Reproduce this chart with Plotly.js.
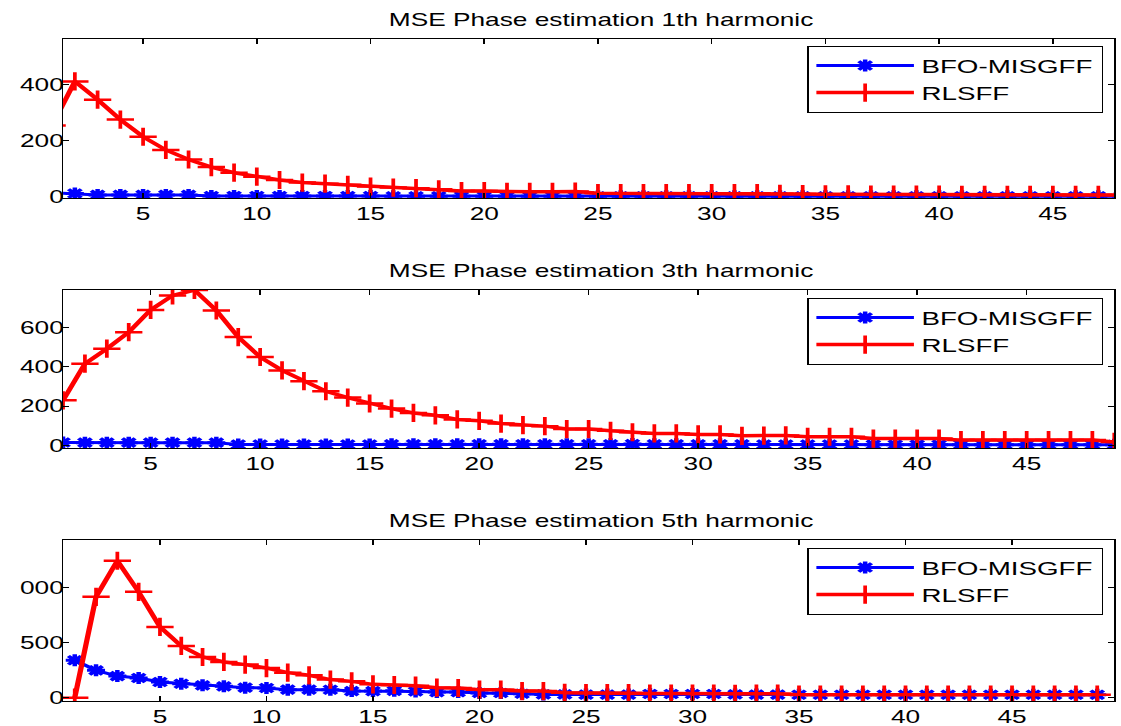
<!DOCTYPE html>
<html><head><meta charset="utf-8">
<script src="https://cdn.plot.ly/plotly-3.0.1.min.js"></script>
<style>
html,body{margin:0;padding:0;overflow:hidden;background:#fff;}
#chart{width:747px;height:726px;transform:scaleX(1.5007);transform-origin:0 0;}
</style>
</head><body><div id="chart"></div>
<script>
// sample index (x axis)
const samples = [1,2,3,4,5,6,7,8,9,10,11,12,13,14,15,16,17,18,19,20,21,22,23,24,25,26,27,28,29,30,31,32,33,34,35,36,37,38,39,40,41,42,43,44,45,46,47,48,49];
const xTicks = [5,10,15,20,25,30,35,40,45];
const seriesNames = ['BFO-MISGFF','RLSFF'];
const titles = ['MSE Phase estimation 1th harmonic','MSE Phase estimation 3th harmonic','MSE Phase estimation 5th harmonic'];

// 1th harmonic
const h1_bfo = [16,13,8,8,8,8,8,4,4,4,4,4,4,4,4,3,3,3,3,3,3,3,3,3,3,3,3,3,3,3,3,3,3,3,3,3,3,3,3,3,3,3,3,3,3,3,3,3];
const h1_rls = [255,412,347,276,215,168,134,107,87,73,61,52,48,44,38,34,32,28,22,22,19,19,19,20,14,14,14,14,14,14,14,14,12,11,10,10,9,9,9,9,8,8,8,8,8,8,8,8];
// 3th harmonic
const h3_bfo = [16,15,15,15,15,15,15,15,6,6,6,6,6,6,6,7,7,7,7,7,7,7,7,7,7,7,8,7,7,7,7,7,6,6,6,6,6,5,5,5,5,5,5,5,5,5,5,5,4];
const h3_rls = [230,416,492,576,689,762,790,686,551,450,382,327,276,244,214,188,166,154,133,126,112,104,99,84,84,75,68,62,62,57,57,50,51,52,45,45,45,36,36,36,36,28,28,28,28,28,28,28,19];
// 5th harmonic
const h5_bfo = [339,248,196,178,142,127,112,103,91,88,73,73,72,60,60,62,57,51,51,42,42,36,30,30,28,28,28,33,33,33,33,30,28,28,27,27,27,27,27,27,27,27,27,27,27,27,27,27,27];
const h5_rls = [0,915,1242,960,642,469,369,324,300,269,227,203,164,148,121,115,109,91,88,73,73,60,60,45,42,42,42,38,38,36,36,34,36,36,27,27,27,27,27,27,27,27,27,27,27,27,27,27,27];

const yTickVals = [[0,200,400],[0,200,400,600],[0,500,1000]];
const yTickText = [['0','200','400'],['0','200','400','600'],['0','500','000']];

const W = 747, H = 726;
const FONT = 'Liberation Sans, Arial, Helvetica, sans-serif';
const xDom = [42/W, 742.5/W];
const plotTops = [39, 290, 540];
const plotBots = [198, 448, 701];
const xRanges = [[1.48,47.7],[1,49],[0.45,49.8]];
const yRanges = [[-3,563],[-12,790],[-30,1430]];
const legendTops = [46, 298, 548];

const bfoData = [h1_bfo, h3_bfo, h5_bfo];
const rlsData = [h1_rls, h3_rls, h5_rls];

const traces = [];
const layout = {
  width: W, height: H,
  margin: {l:0, r:0, t:0, b:0},
  paper_bgcolor: '#fff', plot_bgcolor: '#fff',
  font: {family: FONT, color: '#000', size: 17},
  annotations: []
};

for (let i = 0; i < 3; i++) {
  const sfx = i === 0 ? '' : String(i + 1);
  const lg = 'legend' + sfx;
  traces.push({
    x: samples.slice(0, bfoData[i].length), y: bfoData[i], name: seriesNames[0],
    type: 'scatter', mode: 'lines+markers',
    xaxis: 'x' + sfx, yaxis: 'y' + sfx, legend: lg,
    line: {color: '#0000ff', width: 3},
    marker: {symbol: 'asterisk-open', size: 10, color: '#0000ff', line: {color: '#0000ff', width: 3}}
  });
  traces.push({
    x: samples.slice(0, rlsData[i].length), y: rlsData[i], name: seriesNames[1],
    type: 'scatter', mode: 'lines+markers',
    xaxis: 'x' + sfx, yaxis: 'y' + sfx, legend: lg,
    line: {color: '#ff0000', width: 3.5},
    marker: {symbol: 'cross-thin-open', size: 13, color: '#ff0000', line: {color: '#ff0000', width: 2.5}}
  });
  const yDom = [1 - plotBots[i] / H, 1 - plotTops[i] / H];
  layout['xaxis' + sfx] = {
    domain: xDom, range: xRanges[i], anchor: 'y' + sfx,
    tickmode: 'array', tickvals: xTicks, ticks: 'inside', ticklen: 5, tickcolor: '#000', tickwidth: 1,
    showline: true, linecolor: '#000', linewidth: 1, mirror: 'ticks',
    showgrid: false, zeroline: false, tickfont: {size: 17.5, family: FONT, color: '#000'}
  };
  layout['yaxis' + sfx] = {
    domain: yDom, range: yRanges[i], anchor: 'x' + sfx,
    tickmode: 'array', tickvals: yTickVals[i], ticktext: yTickText[i],
    ticks: 'inside', ticklen: 4, tickcolor: '#000', tickwidth: 1, ticklabelstandoff: -5,
    showline: true, linecolor: '#000', linewidth: 1, mirror: 'ticks',
    showgrid: false, zeroline: false, tickfont: {size: 17.5, family: FONT, color: '#000'}
  };
  layout[lg] = {
    x: 735/W, xanchor: 'right', y: 1 - legendTops[i] / H, yanchor: 'top',
    bgcolor: '#fff', bordercolor: '#000', borderwidth: 1,
    font: {size: 18.5, family: FONT, color: '#000'}, itemwidth: 65, tracegroupgap: 0
  };
  layout.annotations.push({
    text: titles[i], xref: 'paper', yref: 'paper', x: 400/W, y: 1 - (plotTops[i] - 19) / H,
    xanchor: 'center', yanchor: 'middle', showarrow: false,
    font: {size: 17.5, family: FONT, color: '#000'}
  });
}

Plotly.newPlot('chart', traces, layout, {displayModeBar: false, staticPlot: true});
</script>
</body></html>
